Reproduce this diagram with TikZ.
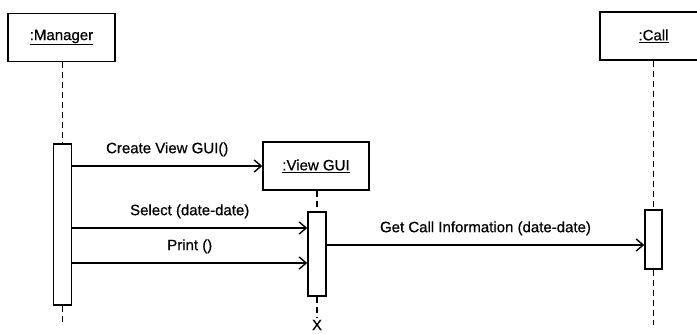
\documentclass[tikz,border=0pt]{standalone}
\usepackage{fontspec}
\setmainfont{Liberation Sans}
\newfontfamily\lblfont{Liberation Sans}[FakeBold=0.6]
\usetikzlibrary{arrows.meta}
\begin{document}
\begin{tikzpicture}[x=1pt,y=-1pt,
  every node/.style={font=\lblfont\fontsize{15}{17}\selectfont, inner sep=0pt},
  objbox/.style={draw, line width=1.5pt, minimum width=107pt, minimum height=48pt},
  actbox/.style={draw, fill=white, line width=1.5pt, minimum width=18pt},
  lifeline/.style={line width=1.3pt, dash pattern=on 6pt off 4pt},
  msg/.style={line width=1.4pt, -{Straight Barb[length=7pt,width=12pt,line width=1.4pt]}},
  msglabel/.style={above=9pt}]
\useasboundingbox (0,0) rectangle (697,334);
\clip (0,0) rectangle (697,334);

% object heads
\node[objbox] (mgr)  at (61.5,37.5) {\underline{:Manager}};
\node[objbox, minimum width=106pt] (vgui) at (316,166) {\underline{:View GUI}};
\node[objbox] (call) at (653.5,36) {\underline{:Call}};

% activation bars
\node[actbox, minimum height=161pt] (mgrAct)  at (62.5,224.5) {};
\node[actbox, minimum height=84pt]  (vguiAct) at (317,254) {};
\node[actbox, minimum width=17pt, minimum height=59pt] (callAct) at (653.5,239.5) {};

% lifeline ends and destruction mark
\coordinate (mgrEnd)  at (62.5,325);
\coordinate (callEnd) at (653.5,325);
\coordinate (vguiEnd) at (317,317);
\node (kill) at (317,325) {X};

% lifelines
\draw[lifeline] (mgr.south -| mgrAct.north) -- (mgrAct.north);
\draw[lifeline] (mgrAct.south) -- (mgrEnd);
\draw[lifeline] (vgui.south -| vguiAct.north) -- (vguiAct.north);
\draw[lifeline] (vguiAct.south) -- (vguiEnd);
\draw[lifeline] (call.south -| callAct.north) -- (callAct.north);
\draw[lifeline] (callAct.south) -- (callEnd);

% message rows
\coordinate (rowSelect) at (0,228);
\coordinate (rowPrint)  at (0,263);
\coordinate (rowGet)    at (0,245);

% messages
\draw[msg] (mgrAct.east |- vgui.west) -- node[msglabel] {Create View GUI()} (vgui.west);
\draw[msg] (mgrAct.east |- rowSelect) -- node[msglabel] {Select (date-date)} (vguiAct.west |- rowSelect);
\draw[msg] (mgrAct.east |- rowPrint) -- node[msglabel] {Print ()} (vguiAct.west |- rowPrint);
\draw[msg] (vguiAct.east |- rowGet) -- node[msglabel] {Get Call Information (date-date)} (callAct.west |- rowGet);
\end{tikzpicture}
\end{document}
